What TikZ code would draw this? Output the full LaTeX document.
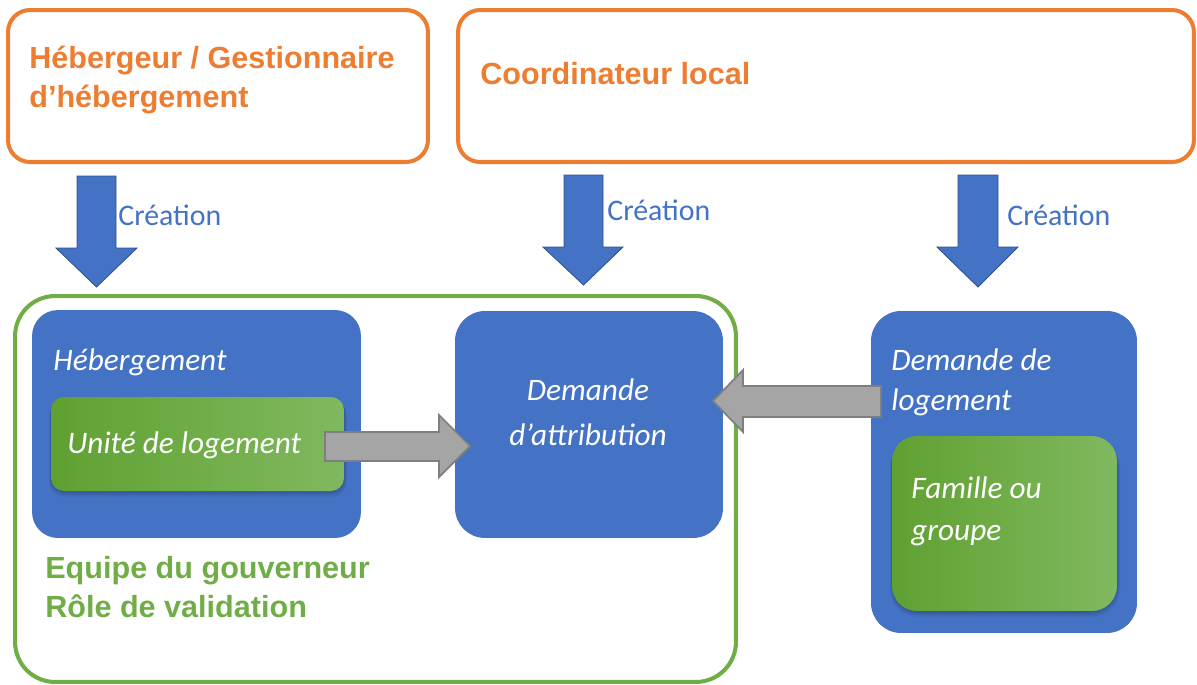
\documentclass[tikz,border=0pt]{standalone}
\usepackage{fontspec}
\setmainfont{Liberation Sans}
\newfontfamily\calibri{Carlito}
\definecolor{ora}{HTML}{ED7D31}
\definecolor{blu}{HTML}{4472C4}
\definecolor{bluedge}{HTML}{2F528F}
\definecolor{grn}{HTML}{70AD47}
\definecolor{grnL}{HTML}{5FA032}
\definecolor{grnR}{HTML}{80B860}
\definecolor{gryfill}{HTML}{A5A5A5}
\definecolor{gryedge}{HTML}{7F7F7F}
\definecolor{shad}{HTML}{1F3864}
\tikzset{
  orangebox/.style={draw=ora, line width=2.3pt, rounded corners=0.44cm, fill=white},
  greenframe/.style={draw=grn, line width=2.3pt, rounded corners=0.8cm},
  bluebox/.style={fill=blu, draw=none, rounded corners=0.55cm},
  gradbox/.style={draw=none, left color=grnL, right color=grnR, middle color=grn},
  bigtitle/.style={font=\bfseries\fontsize{17.4}{20}\selectfont, text=ora, anchor=base west, inner sep=0pt},
  greentitle/.style={font=\bfseries\fontsize{17.4}{20}\selectfont, text=grn, anchor=base west, inner sep=0pt},
  creat/.style={font=\calibri\fontsize{17}{20}\selectfont, text=blu, anchor=base west, inner sep=0pt},
  wlabel/.style={font=\calibri\itshape\fontsize{17.8}{20}\selectfont, text=white, inner sep=0pt},
  bluearrow/.style={fill=blu, draw=bluedge, line width=0.5pt, line join=miter},
  grayarrow/.style={fill=gryfill, draw=gryedge, line width=1pt, line join=miter}
}
\begin{document}
\begin{tikzpicture}[x=0.02cm, y=-0.02cm]
\useasboundingbox (0,0) rectangle (1197,684);
% top orange boxes
\node[orangebox, minimum width=8.4cm, minimum height=3.04cm, inner sep=0pt] (heb) at (218,86) {};
\node[orangebox, minimum width=14.72cm, minimum height=3.04cm, inner sep=0pt] (coord) at (826,86) {};
\node[bigtitle] (hebA) at (29,68) {Hébergeur / Gestionnaire};
\node[bigtitle] (hebB) at (29,107) {d’hébergement};
\node[bigtitle] (coordT) at (480,84) {Coordinateur local};
% green frame
\node[greenframe, minimum width=14.42cm, minimum height=7.72cm, inner sep=0pt] (gov) at (375.5,489) {};
% blue boxes
\node[bluebox, rounded corners=0.52cm, minimum width=6.58cm, minimum height=4.56cm, inner sep=0pt] (hebg) at (196.5,424) {};
\node[bluebox, rounded corners=0.6cm, minimum width=5.36cm, minimum height=4.54cm, inner sep=0pt] (attr) at (589,424.5) {};
\node[bluebox, rounded corners=0.6cm, minimum width=5.32cm, minimum height=6.44cm, inner sep=0pt] (dlog) at (1004,472) {};
% shadows of green boxes
\foreach \o/\a in {6/0.10,4/0.15,2/0.2}{
  \fill[shad, opacity=\a, rounded corners=0.3cm] (51-\o*0.3,397+\o*0.6) rectangle (344+\o*0.5,491+\o);
  \fill[shad, opacity=\a, rounded corners=0.55cm] (892-\o*0.3,436+\o*0.6) rectangle (1117+\o*0.5,611+\o);
}
% green gradient boxes
\node[gradbox, rounded corners=0.26cm, minimum width=5.86cm, minimum height=1.88cm, inner sep=0pt] (unit) at (197.5,444) {};
\node[gradbox, rounded corners=0.5cm, minimum width=4.5cm, minimum height=3.5cm, inner sep=0pt] (fam) at (1004.5,523.5) {};
% white labels
\node[wlabel, anchor=base west] (hebgT) at (53,370) {Hébergement};
\node[wlabel, anchor=base west] (unitT) at (67,453) {Unité de logement};
\node[wlabel, anchor=base] (attrA) at (588,400) {Demande};
\node[wlabel, anchor=base] (attrB) at (588,445) {d’attribution};
\node[wlabel, anchor=base west] (dlogA) at (891,370) {Demande de};
\node[wlabel, anchor=base west] (dlogB) at (891,410) {logement};
\node[wlabel, anchor=base west] (famA) at (911,498) {Famille ou};
\node[wlabel, anchor=base west] (famB) at (911,540) {groupe};
% green text
\node[greentitle] (govA) at (45,578) {Equipe du gouverneur};
\node[greentitle] (govB) at (45,617) {Rôle de validation};
% blue arrows
\draw[bluearrow] (77,176) -- (116,176) -- (116,248) -- (137,248) -- (96.5,287) -- (56,248) -- (77,248) -- cycle;
\draw[bluearrow] (564,175) -- (603,175) -- (603,247) -- (623,247) -- (583.5,285) -- (543,247) -- (564,247) -- cycle;
\draw[bluearrow] (958,175) -- (998,175) -- (998,247) -- (1018,247) -- (978,287) -- (937,247) -- (958,247) -- cycle;
\node[creat] (c1) at (118,225) {Création};
\node[creat] (c2) at (607,220) {Création};
\node[creat] (c3) at (1007,225) {Création};
% gray arrows
\draw[grayarrow] (325,432) -- (439,432) -- (439,415) -- (470,446) -- (439,477) -- (439,461) -- (325,461) -- cycle;
\draw[grayarrow] (881,386) -- (743,386) -- (743,370) -- (713,401) -- (743,432) -- (743,417) -- (881,417) -- cycle;
\end{tikzpicture}
\end{document}
